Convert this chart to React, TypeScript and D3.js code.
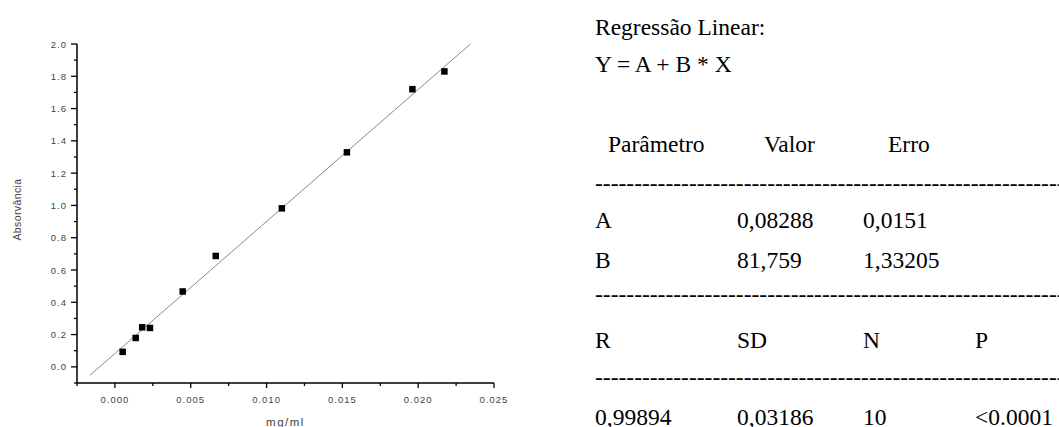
import React, { useEffect, useRef } from 'react';
import * as d3 from 'd3';

// measured points (mg/ml vs absorbance)
const concentrations = [0.00051, 0.00137, 0.0018, 0.00231, 0.00447, 0.00665, 0.01101, 0.0153, 0.01962, 0.02173];
const absorbances = [0.093, 0.179, 0.245, 0.241, 0.467, 0.687, 0.982, 1.329, 1.72, 1.83];

const xTicks = [0, 0.005, 0.01, 0.015, 0.02, 0.025];
const yTicks = [0, 0.2, 0.4, 0.6, 0.8, 1.0, 1.2, 1.4, 1.6, 1.8, 2.0];

// regression results
const fitA = 0.08288;
const fitB = 81.759;
const fitRange = [-0.00165, 0.02345];

const headerCols = ['Parâmetro', 'Valor', 'Erro'];
const paramRows = [
  ['A', '0,08288', '0,0151'],
  ['B', '81,759', '1,33205'],
];
const statHeader = ['R', 'SD', 'N', 'P'];
const statValues = ['0,99894', '0,03186', '10', '<0.0001'];

function App() {
  const ref = useRef<SVGSVGElement>(null);

  useEffect(() => {
    drawChart();
  });

  function drawChart() {
    const svg = d3.select(ref.current);
    svg.selectAll('*').remove();

    const left = 77, right = 494, top = 44, bottom = 383;
    const tickFont = 'Liberation Sans, Arial, sans-serif';

    const x = d3.scaleLinear().domain([-0.0025, 0.025]).range([left, right]);
    const y = d3.scaleLinear().domain([-0.1, 2.0]).range([bottom, top]);

    const g = svg.append('g');

    // fit line
    const fitLine = d3.line<number>()
      .x(d => x(d))
      .y(d => y(fitA + fitB * d));
    g.append('path')
      .datum(fitRange)
      .attr('d', fitLine)
      .attr('stroke', '#8a8a8a')
      .attr('stroke-width', 1)
      .attr('fill', 'none');

    // points
    const s = 6.5;
    g.selectAll('.pt')
      .data(concentrations)
      .enter()
      .append('rect')
      .attr('class', 'pt')
      .attr('x', d => x(d) - s / 2)
      .attr('y', (d, i) => y(absorbances[i]) - s / 2)
      .attr('width', s)
      .attr('height', s)
      .attr('fill', '#000');

    // x axis
    const xMinor = d3.range(-0.0025, 0.0251, 0.0025).filter(v => !xTicks.some(t => Math.abs(t - v) < 1e-9));
    g.append('line')
      .attr('x1', left).attr('x2', right)
      .attr('y1', bottom).attr('y2', bottom)
      .attr('stroke', '#000').attr('stroke-width', 1.5);
    g.selectAll('.xmaj').data(xTicks).enter().append('line')
      .attr('x1', d => x(d)).attr('x2', d => x(d))
      .attr('y1', bottom).attr('y2', bottom + 5)
      .attr('stroke', '#000').attr('stroke-width', 1.3);
    g.selectAll('.xmin').data(xMinor).enter().append('line')
      .attr('x1', d => x(d)).attr('x2', d => x(d))
      .attr('y1', bottom).attr('y2', bottom + 3)
      .attr('stroke', '#000').attr('stroke-width', 1.3);
    g.selectAll('.xlab').data(xTicks).enter().append('text')
      .attr('x', d => x(d))
      .attr('y', bottom + 20)
      .attr('text-anchor', 'middle')
      .style('font-family', tickFont)
      .style('font-size', '9.5px')
      .style('letter-spacing', '1px')
      .attr('fill', '#444')
      .text(d => d3.format('.3f')(d));

    // y axis
    const yMinor = d3.range(-0.1, 2.01, 0.1).filter(v => !yTicks.some(t => Math.abs(t - v) < 1e-9));
    g.append('line')
      .attr('x1', left).attr('x2', left)
      .attr('y1', top).attr('y2', bottom)
      .attr('stroke', '#000').attr('stroke-width', 1.5);
    g.selectAll('.ymaj').data(yTicks).enter().append('line')
      .attr('x1', left - 6).attr('x2', left)
      .attr('y1', d => y(d)).attr('y2', d => y(d))
      .attr('stroke', '#000').attr('stroke-width', 1.3);
    g.selectAll('.ymin').data(yMinor).enter().append('line')
      .attr('x1', left - 3).attr('x2', left)
      .attr('y1', d => y(d)).attr('y2', d => y(d))
      .attr('stroke', '#000').attr('stroke-width', 1.3);
    g.selectAll('.ylab').data(yTicks).enter().append('text')
      .attr('x', left - 10)
      .attr('y', d => y(d) + 3.5)
      .attr('text-anchor', 'end')
      .style('font-family', tickFont)
      .style('font-size', '9.5px')
      .style('letter-spacing', '1px')
      .attr('fill', '#444')
      .text(d => d3.format('.1f')(d));

    // axis titles
    g.append('text')
      .attr('x', (left + right) / 2)
      .attr('y', 426)
      .attr('text-anchor', 'middle')
      .style('font-family', tickFont)
      .style('font-size', '11.5px')
      .style('letter-spacing', '1.5px')
      .attr('fill', '#444')
      .text('mg/ml');
    g.append('text')
      .attr('transform', `translate(21, ${(top + bottom) / 2 - 4}) rotate(-90)`)
      .attr('text-anchor', 'middle')
      .style('font-family', tickFont)
      .style('font-size', '10.5px')
      .style('letter-spacing', '0.4px')
      .attr('fill', '#444')
      .text('Absorvância');

    // regression text panel
    const t = svg.append('g')
      .style('font-family', 'Liberation Serif, Times New Roman, serif')
      .style('font-size', '23.5px')
      .attr('fill', '#000');
    const tx = 595;
    const col = [595, 737, 863, 975];
    const dashes = '-'.repeat(80);

    t.append('text').attr('x', tx).attr('y', 35).text('Regressão Linear:');
    t.append('text').attr('x', tx).attr('y', 72).text('Y = A + B * X');

    const headX = [608, 764, 888];
    headerCols.forEach((h, i) => {
      t.append('text').attr('x', headX[i]).attr('y', 152).text(h);
    });
    t.append('text').attr('x', tx).attr('y', 191).text(dashes);
    paramRows.forEach((row, r) => {
      row.forEach((c, i) => {
        t.append('text').attr('x', col[i]).attr('y', 228 + r * 40).text(c);
      });
    });
    t.append('text').attr('x', tx).attr('y', 302).text(dashes);
    statHeader.forEach((c, i) => {
      t.append('text').attr('x', col[i]).attr('y', 348).text(c);
    });
    t.append('text').attr('x', tx).attr('y', 385).text(dashes);
    statValues.forEach((c, i) => {
      t.append('text').attr('x', col[i]).attr('y', 425).text(c);
    });
  }

  return (
    <svg
      ref={ref}
      width={1059}
      height={427}
      style={{ position: 'absolute', left: 0, top: 0, background: 'white' }}
    />
  );
}

export default App;
